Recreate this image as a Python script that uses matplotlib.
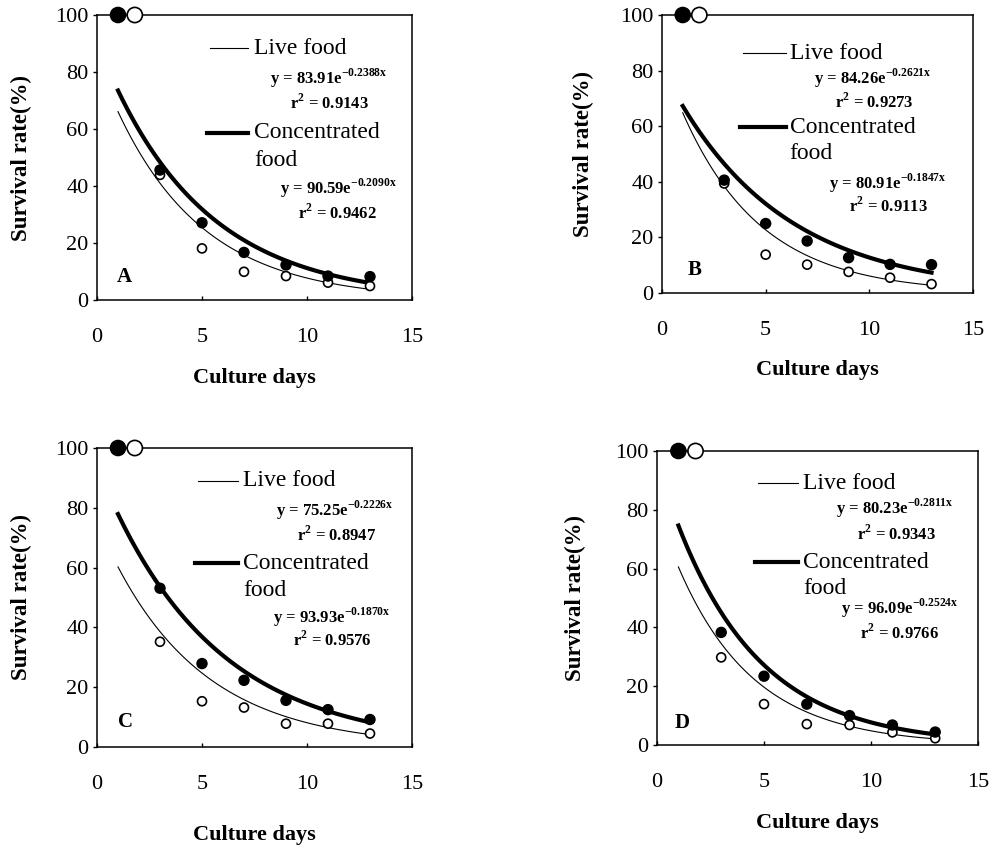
"""Survival rate of larvae fed live vs concentrated food (panels A-D)."""

import numpy as np
import matplotlib
matplotlib.use("Agg")
import matplotlib.pyplot as plt

plt.rcParams["font.family"] = ["Liberation Serif", "DejaVu Serif"]
plt.rcParams["mathtext.fontset"] = "custom"
plt.rcParams["mathtext.rm"] = "Liberation Serif"
plt.rcParams["mathtext.bf"] = "Liberation Serif:bold"

panels = ["A", "B", "C", "D"]
days = [1, 3, 5, 7, 9, 11, 13]
live_days = [1.8, 3, 5, 7, 9, 11, 13]

conc_A = [100, 45.6, 27.1, 16.7, 12.3, 8.4, 8.2]
live_A = [100, 43.9, 18.1, 9.9, 8.4, 6.1, 4.9]
conc_B = [100, 40.6, 25.0, 18.7, 12.7, 10.3, 10.2]
live_B = [100, 39.4, 13.8, 10.2, 7.6, 5.5, 3.2]
conc_C = [100, 53.1, 27.9, 22.3, 15.6, 12.5, 9.2]
live_C = [100, 35.2, 15.3, 13.2, 7.8, 7.8, 4.5]
conc_D = [100, 38.3, 23.4, 13.9, 10.0, 6.8, 4.4]
live_D = [100, 29.8, 13.9, 7.1, 6.8, 4.3, 2.3]

# exponential trendlines y = a * exp(b x), as printed on the chart
live_a = [83.91, 84.26, 75.25, 80.23]
live_b = [-0.2388, -0.2621, -0.2226, -0.2811]
live_r2 = ["0.9143", "0.9273", "0.8947", "0.9343"]
conc_a = [90.59, 80.91, 93.93, 96.09]
conc_b = [-0.2090, -0.1847, -0.1870, -0.2524]
conc_r2 = ["0.9462", "0.9113", "0.9576", "0.9766"]

conc_all = [conc_A, conc_B, conc_C, conc_D]
live_all = [live_A, live_B, live_C, live_D]

# axes rectangles in pixels (992 x 850)
W, H = 992, 850
boxes = [(97, 412, 15, 300), (662, 973, 15, 293),
         (97, 412, 448, 747), (657, 978, 451, 745)]

# text layout per panel (axes fraction)
layouts = [
    dict(l0=0.359, l1=0.479, tx=0.498, ly=0.884, cy=0.586, fy=0.491,
         e1=(0.549, 0.779), r1=(0.613, 0.691), e2=(0.581, 0.393), r2=(0.638, 0.305),
         let=(0.063, 0.081), xl=-0.274, yl=-0.24),
    dict(l0=0.260, l1=0.400, tx=0.410, ly=0.863, cy=0.597, fy=0.503,
         e1=(0.490, 0.773), r1=(0.556, 0.687), e2=(0.537, 0.394), r2=(0.600, 0.314),
         let=(0.084, 0.083), xl=-0.277, yl=-0.254),
    dict(l0=0.321, l1=0.448, tx=0.463, ly=0.890, cy=0.615, fy=0.525,
         e1=(0.568, 0.793), r1=(0.635, 0.709), e2=(0.559, 0.435), r2=(0.622, 0.358),
         let=(0.067, 0.084), xl=-0.294, yl=-0.24),
    dict(l0=0.315, l1=0.440, tx=0.455, ly=0.891, cy=0.622, fy=0.534,
         e1=(0.558, 0.806), r1=(0.623, 0.718), e2=(0.573, 0.466), r2=(0.632, 0.381),
         let=(0.056, 0.075), xl=-0.265, yl=-0.254),
]

fig = plt.figure(figsize=(W / 100, H / 100), dpi=100)

fit_x = np.linspace(days[0], days[-1], 120)
sizes_conc = [120] + [52] * (len(days) - 1)
sizes_live = [120] + [42] * (len(days) - 1)

for i, name in enumerate(panels):
    x0, x1, y0, y1 = boxes[i]
    ax = fig.add_axes([x0 / W, 1 - y1 / H, (x1 - x0) / W, (y1 - y0) / H])
    lay = layouts[i]

    ax.plot(fit_x, live_a[i] * np.exp(live_b[i] * fit_x), color="black", lw=0.8)
    ax.plot(fit_x, conc_a[i] * np.exp(conc_b[i] * fit_x), color="black", lw=3.0)
    ax.scatter(live_days, live_all[i], s=sizes_live, facecolor="white",
               edgecolor="black", linewidth=1.2, zorder=3, clip_on=False)
    ax.scatter(days, conc_all[i], s=sizes_conc, color="black", zorder=4, clip_on=False)

    ax.set_xlim(0, 15)
    ax.set_ylim(0, 100)
    ax.set_xticks([0, 5, 10, 15])
    ax.set_yticks([0, 20, 40, 60, 80, 100])
    ax.tick_params(axis="x", direction="in", length=3, width=1, pad=20, labelsize=16)
    ax.tick_params(axis="y", direction="out", length=3, width=1, pad=3, labelsize=16)
    for sp in ax.spines.values():
        sp.set_linewidth(1.1)

    ax.set_xlabel("Culture days", fontsize=16, fontweight="bold", va="center")
    ax.set_ylabel("Survival rate(%)", fontsize=16.5, fontweight="bold", va="center")
    ax.xaxis.set_label_coords(0.5, lay["xl"])
    ax.yaxis.set_label_coords(lay["yl"], 0.5)

    # legend handles and labels
    tr = ax.transAxes
    ax.plot([lay["l0"], lay["l1"]], [lay["ly"], lay["ly"]], color="black", lw=0.8, transform=tr)
    ax.plot([lay["l0"] - 0.01, lay["l1"]], [lay["cy"], lay["cy"]], color="black", lw=3.0,
            transform=tr)
    ax.text(lay["tx"], lay["ly"], "Live food", fontsize=17, va="center", transform=tr)
    ax.text(lay["tx"], lay["cy"], "Concentrated", fontsize=17, va="center", transform=tr)
    ax.text(lay["tx"], lay["fy"], "food", fontsize=17, va="center", transform=tr)

    eq1 = r"y = %.2fe$^{\mathbf{%.4fx}}$" % (live_a[i], live_b[i])
    eq2 = r"y = %.2fe$^{\mathbf{%.4fx}}$" % (conc_a[i], conc_b[i])
    ax.text(*lay["e1"], eq1, fontsize=12, fontweight="bold", va="center", transform=tr)
    ax.text(*lay["r1"], r"r$^{\mathbf{2}}$ = " + live_r2[i], fontsize=12,
            fontweight="bold", va="center", transform=tr)
    ax.text(*lay["e2"], eq2, fontsize=12, fontweight="bold", va="center", transform=tr)
    ax.text(*lay["r2"], r"r$^{\mathbf{2}}$ = " + conc_r2[i], fontsize=12,
            fontweight="bold", va="center", transform=tr)
    ax.text(*lay["let"], name, fontsize=15, fontweight="bold", va="center", transform=tr)

fig.savefig("out.png", dpi=100)
